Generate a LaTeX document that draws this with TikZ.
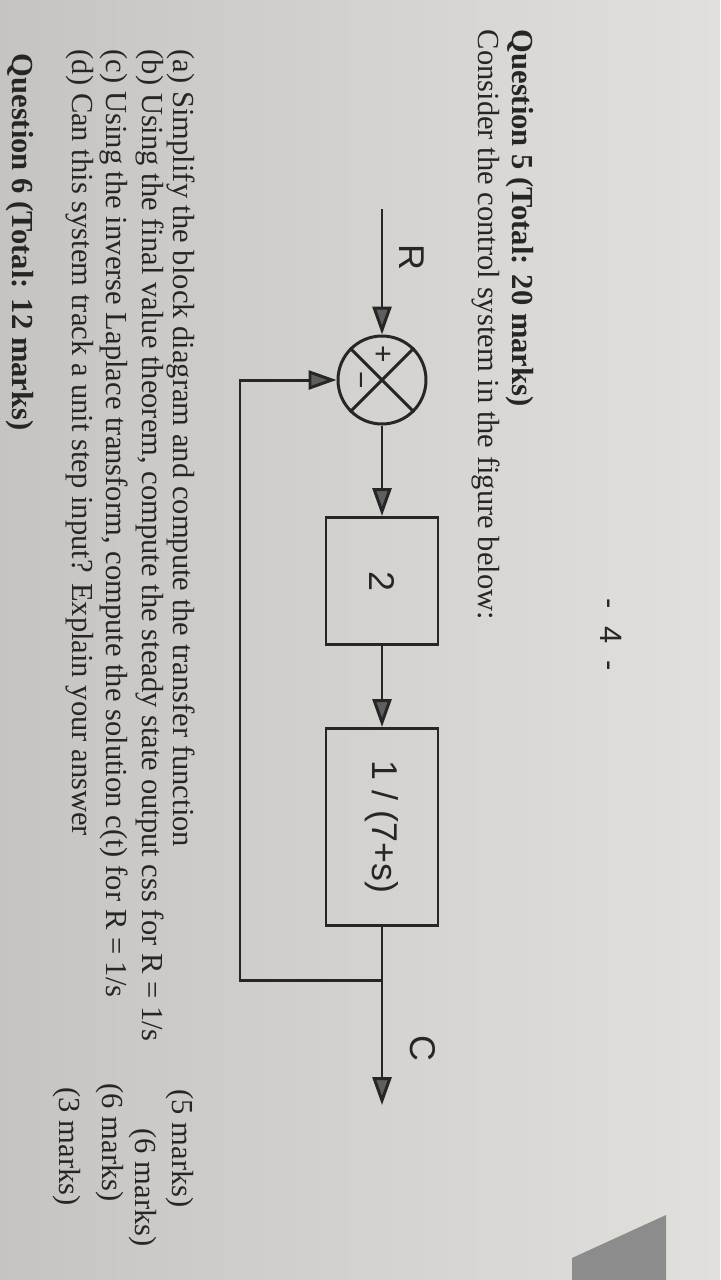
\documentclass[tikz,border=0pt]{standalone}
\usepackage{fontspec}
\setmainfont{Liberation Serif}
\newfontfamily\blockfont{Liberation Sans}
\usepackage{xcolor}
\usetikzlibrary{arrows.meta,positioning,calc}

\definecolor{paperdark}{RGB}{198,196,192}
\definecolor{paperlight}{RGB}{226,224,220}
\definecolor{ink}{RGB}{38,38,38}
\definecolor{tipgray}{RGB}{95,95,95}
\definecolor{cornergray}{RGB}{140,140,140}

\begin{document}
\begin{tikzpicture}[x=0.1mm,y=0.1mm,
  line/.style={draw=ink,line width=0.85pt},
  sig/.style={line,-{Triangle[length=2.8mm,width=1.9mm,fill=tipgray]}},
  block/.style={line,minimum height=11.2mm,inner sep=0pt,text=ink,
    font=\blockfont\fontsize{10.2}{12}\selectfont},
  lbl/.style={inner sep=0pt,text=ink,font=\blockfont\fontsize{10.2}{12}\selectfont},
  sgn/.style={inner sep=0pt,text=ink,font=\blockfont\fontsize{8.5}{10}\selectfont},
  txt/.style={anchor=base west,inner sep=0pt,text=ink,font=\fontsize{8.7}{10}\selectfont}]
\shade[left color=paperdark,right color=paperlight] (0,0) rectangle (720,-1280);
\useasboundingbox (0,0) rectangle (720,-1280);
\fill[cornergray] (572,-1258) -- (666,-1215) -- (666,-1280) -- (572,-1280) -- cycle;

% the page is photographed on its side
\begin{scope}[rotate=-90,transform shape]
\node[lbl,font=\blockfont\fontsize{8.8}{10}\selectfont,anchor=base] (pageno) at (635,600) {-~~4~~-};

\node[txt] (q5) at (29,512) {\bfseries Question 5 (Total: 20 marks)};
\node[txt] (intro) at (29,478) {Consider the control system in the figure below:};

% block diagram
\coordinate (rin) at (209,382);
\node[circle,line,minimum size=8.8mm,inner sep=0pt] (sum) at (380,382) {};
\draw[line] (sum.north west) -- (sum.south east) (sum.south west) -- (sum.north east);
\node[sgn] (plus) at ($(sum)+(-26,0)$) {+};
\node[sgn] (minus) at ($(sum)+(0,-25)$) {−};
\node[block,minimum width=12.7mm] (gain) at (581,382) {2};
\node[block,minimum width=19.7mm] (plant) at (827,382) {1 / (7+s)};
\coordinate (split) at (980,382);
\coordinate (cout) at (1105,382);
\coordinate (fbr) at (980,240);
\coordinate (fbl) at (380,240);
\node[lbl] (rlab) at (257,412) {R};
\node[lbl] (clab) at (1048,423) {C};

\draw[sig] (rin) -- (sum);
\draw[sig] (sum) -- (gain);
\draw[sig] (gain) -- (plant);
\draw[sig] (plant) -- (cout);
\draw[sig] (split) -- (fbr) -- (fbl) -- (sum);

% questions
\node[txt] (pa) at (49,173) {(a) Simplify the block diagram and compute the transfer function};
\node[txt] (pb) at (49,142) {(b) Using the final value theorem, compute the steady state output css for R = 1/s};
\node[txt] (pc) at (49,106) {(c) Using the inverse Laplace transform, compute the solution c(t) for R = 1/s};
\node[txt] (pd) at (49,72) {(d) Can this system track a unit step input? Explain your answer};
\node[txt] (ma) at (1089,172) {(5 marks)};
\node[txt] (mb) at (1128,135) {(6 marks)};
\node[txt] (mc) at (1083,102) {(6 marks)};
\node[txt] (md) at (1087,60) {(3 marks)};

\node[txt] (q6) at (53,12) {\bfseries Question 6 (Total: 12 marks)};
\end{scope}
\end{tikzpicture}
\end{document}
